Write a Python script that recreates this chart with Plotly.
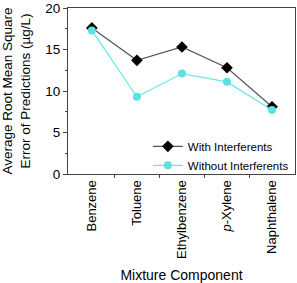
import plotly.graph_objects as go

categories = ["Benzene", "Toluene", "Ethylbenzene", "<i>p</i>-Xylene", "Naphthalene"]
with_interf = [17.6, 13.7, 15.3, 12.8, 8.1]
without_interf = [17.3, 9.3, 12.1, 11.1, 7.7]

x = list(range(len(categories)))
fig = go.Figure()
fig.add_trace(go.Scatter(x=x, y=with_interf, name="With Interferents", mode="lines+markers",
                         line=dict(color="#555555", width=1.2),
                         marker=dict(symbol="diamond", size=9, color="black")))
fig.add_trace(go.Scatter(x=x, y=without_interf, name="Without Interferents", mode="lines+markers",
                         line=dict(color="#66e8e8", width=1.2),
                         marker=dict(symbol="circle", size=8, color="#5ce0e0")))
fig.update_layout(
    width=297, height=283, margin=dict(l=68, r=2, t=8, b=109, autoexpand=False),
    paper_bgcolor="white", plot_bgcolor="white",
    font=dict(family="Liberation Sans, Arial", size=12, color="black"),
    showlegend=True,
    legend=dict(x=0.995, y=-0.035, xanchor="right", yanchor="bottom", bgcolor="rgba(0,0,0,0)",
                font=dict(size=11.5), itemwidth=30, tracegroupgap=0),
    xaxis=dict(range=[-0.53, 4.51], tickvals=x, ticktext=categories, tickangle=-90,
               automargin=False,
               showgrid=False, zeroline=False, showline=True, linecolor="#444", linewidth=1,
               mirror=True, ticks="", tickfont=dict(size=13),
               minor=dict(tickvals=[0.5, 1.5, 2.5, 3.5], ticks="outside", ticklen=3, tickcolor="#444"),
               title=dict(text="Mixture Component", font=dict(size=14))),
    yaxis=dict(range=[0, 20], tickvals=[0, 5, 10, 15, 20], showgrid=False, zeroline=False,
               automargin=False, ticklabeloverflow="allow",
               showline=True, linecolor="#444", linewidth=1, mirror=True,
               ticks="outside", ticklen=4, tickcolor="#444", tickfont=dict(size=13.5),
               minor=dict(dtick=2.5, ticks="outside", ticklen=2, tickcolor="#444"),
               title=dict(text="Average Root Mean Square<br>Error of Predictions (µg/L)",
                          font=dict(size=13.5))),
)
fig.write_html("out.html", config={"displayModeBar": False},
               post_script="document.body.style.margin='0';")
